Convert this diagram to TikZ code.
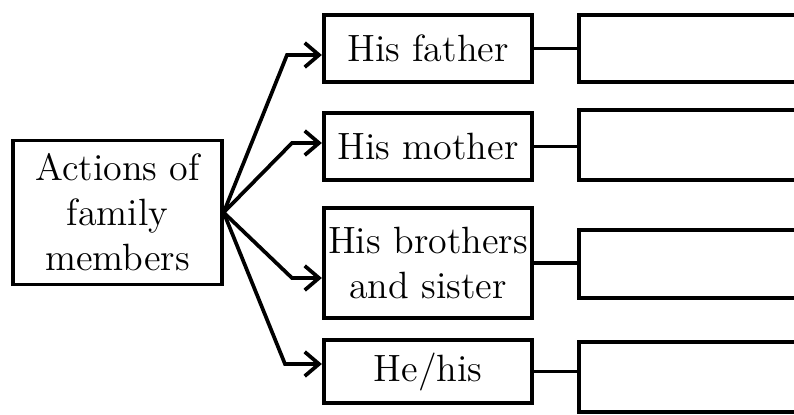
\documentclass[tikz,border=0pt]{standalone}
\usetikzlibrary{arrows.meta}
\begin{document}
\begin{tikzpicture}[x=0.35pt,y=-0.35pt,
	box/.style={draw,line width=1.3pt,align=center,inner sep=1pt,font=\fontsize{13.3}{15.75}\selectfont},
	link/.style={line width=1.3pt},
	>={Straight Barb[length=5pt,width=8.5pt]}]
	\path[use as bounding box,clip] (0,0) rectangle (794,415);
	\node[box,minimum width=73pt,minimum height=50.5pt,name=fam]at(117.5,212.5){Actions of\\family\\members};
	\node[box,minimum width=73pt,minimum height=23.5pt,name=fa]at(428,48.5){His father};
	\node[box,minimum width=73pt,minimum height=23.5pt,name=mo]at(428,146.5){His mother};
	\node[box,minimum width=73pt,minimum height=38.5pt,name=br]at(428,263){His brothers\\and sister};
	\node[box,minimum width=73pt,minimum height=22pt,name=he]at(428,371.5){He/his};
	% empty answer boxes, cut at the right edge
	\node[box,anchor=west,minimum width=100pt,minimum height=23.5pt,name=rfa]at(577,48.5){};
	\node[box,anchor=west,minimum width=100pt,minimum height=24.5pt,name=rmo]at(577,145){};
	\node[box,anchor=west,minimum width=100pt,minimum height=23.8pt,name=rbr]at(577,264){};
	\node[box,anchor=west,minimum width=100pt,minimum height=24.5pt,name=rhe]at(577,377){};
	% arrows
	\coordinate (k1) at (287,55);
	\coordinate (k2) at (292,143);
	\coordinate (k3) at (292,278);
	\coordinate (k4) at (285,364);
	\draw[->,link](fam.east) -- (k1) -- (k1 -| fa.west);
	\draw[->,link](fam.east) -- (k2) -- (k2 -| mo.west);
	\draw[->,link](fam.east) -- (k3) -- (k3 -| br.west);
	\draw[->,link](fam.east) -- (k4) -- (k4 -| he.west);
	% lines to the answer boxes
	\draw[link](fa.east) -- (fa.east -| rfa.west);
	\draw[link](mo.east) -- (mo.east -| rmo.west);
	\draw[link](br.east) -- (br.east -| rbr.west);
	\draw[link](he.east) -- (he.east -| rhe.west);
\end{tikzpicture}
\end{document}
